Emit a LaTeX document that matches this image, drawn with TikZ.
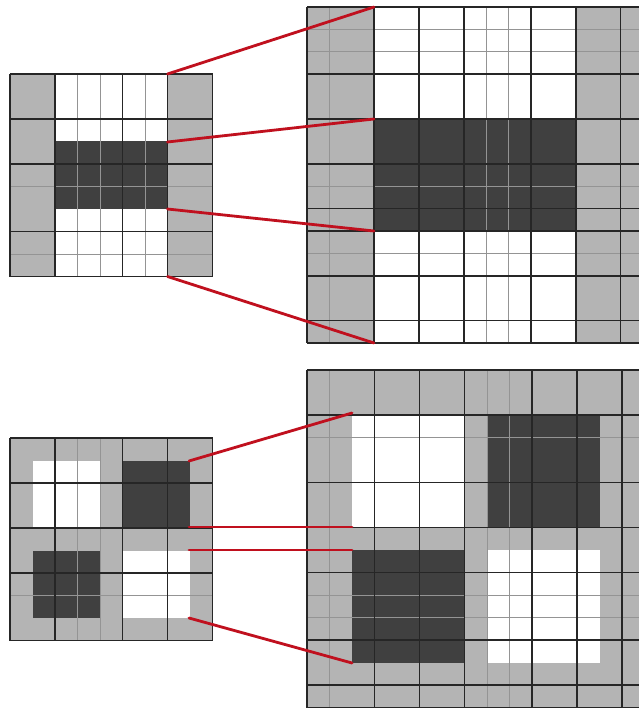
\documentclass[tikz,border=0pt]{standalone}
\definecolor{gfill}{HTML}{B4B4B4}
\definecolor{dfill}{HTML}{404040}
\definecolor{redln}{HTML}{C0101E}
\begin{document}
\begin{tikzpicture}[x=0.5pt,y=-0.5pt,
  thk/.style={draw=black!85,line width=0.8pt},
  thn/.style={draw=black!42,line width=0.45pt},
  zoomln/.style={draw=redln,line width=1.4pt,line cap=round}]
\useasboundingbox (0,0) rectangle (638,711);
\fill[white] (0,0) rectangle (638,711);

% ---------- top small grid ----------
\begin{scope}[xshift=5pt,yshift=-37pt,x=11.25pt,y=-11.25pt]
  \fill[gfill] (0,0) rectangle (9,9);
  \fill[white] (2,0) rectangle (7,9);
  \fill[dfill] (2,3) rectangle (7,6);
  \foreach \v in {3,4,6} \draw[thn] (\v,0) -- (\v,9);
  \foreach \h in {5,8} \draw[thn] (0,\h) -- (9,\h);
  \foreach \v in {0,2,5,7,9} \draw[thk] (\v,0) -- (\v,9);
  \foreach \h in {0,2,4,7,9} \draw[thk] (0,\h) -- (9,\h);
\end{scope}

% ---------- bottom small grid ----------
\begin{scope}[xshift=5pt,yshift=-219pt,x=11.25pt,y=-11.25pt]
  \fill[gfill] (0,0) rectangle (9,9);
  \fill[white] (1,1) rectangle (4,4);
  \fill[dfill] (5,1) rectangle (8,4);
  \fill[dfill] (1,5) rectangle (4,8);
  \fill[white] (5,5) rectangle (8,8);
  \foreach \v in {3,4} \draw[thn] (\v,0) -- (\v,9);
  \foreach \h in {7} \draw[thn] (0,\h) -- (9,\h);
  \foreach \v in {0,2,5,7,9} \draw[thk] (\v,0) -- (\v,9);
  \foreach \h in {0,2,4,6,9} \draw[thk] (0,\h) -- (9,\h);
\end{scope}

% ---------- top big grid ----------
\begin{scope}[xshift=153.5pt,yshift=-3.5pt,x=11.2pt,y=-11.2pt]
  \fill[gfill] (0,0) rectangle (14.8,15);
  \fill[white] (3,0) rectangle (12,15);
  \fill[dfill] (3,5) rectangle (12,10);
  \foreach \v in {1,8,9} \draw[thn] (\v,0) -- (\v,15);
  \foreach \h in {1,2,8,11} \draw[thn] (0,\h) -- (14.8,\h);
  \foreach \v in {0,3,5,7,10,12,14} \draw[thk] (\v,0) -- (\v,15);
  \foreach \h in {0,3,5,7,9,10,12,14,15} \draw[thk] (0,\h) -- (14.8,\h);
\end{scope}

% ---------- bottom big grid ----------
\begin{scope}[xshift=153.5pt,yshift=-185pt,x=11.25pt,y=-11.25pt]
  \fill[gfill] (0,0) rectangle (14.75,15);
  \fill[white] (2,2) rectangle (7,7);
  \fill[dfill] (8,2) rectangle (13,7);
  \fill[dfill] (2,8) rectangle (7,13);
  \fill[white] (8,8) rectangle (13,13);
  \foreach \v in {1,8,9} \draw[thn] (\v,0) -- (\v,15);
  \foreach \h in {3,10,11} \draw[thn] (0,\h) -- (14.75,\h);
  \foreach \v in {0,3,5,7,10,12,14} \draw[thk] (\v,0) -- (\v,15);
  \foreach \h in {0,2,5,7,9,12,14,15} \draw[thk] (0,\h) -- (14.75,\h);
\end{scope}

% ---------- zoom connectors ----------
\coordinate (ta1) at (167.5,74);   \coordinate (tb1) at (374,7);
\coordinate (ta2) at (167.5,142);  \coordinate (tb2) at (374,119);
\coordinate (ta3) at (167.5,209);  \coordinate (tb3) at (374,231);
\coordinate (ta4) at (167.5,276.5);\coordinate (tb4) at (374,343);
\coordinate (ba1) at (189,461);    \coordinate (bb1) at (352,413);
\coordinate (ba2) at (189,527);    \coordinate (bb2) at (352,527);
\coordinate (ba3) at (189,550);    \coordinate (bb3) at (352,550);
\coordinate (ba4) at (189,618);    \coordinate (bb4) at (352,663);
\foreach \i in {1,2,3,4} {
  \draw[zoomln] (ta\i) -- (tb\i);
  \draw[zoomln] (ba\i) -- (bb\i);
}
\end{tikzpicture}
\end{document}
